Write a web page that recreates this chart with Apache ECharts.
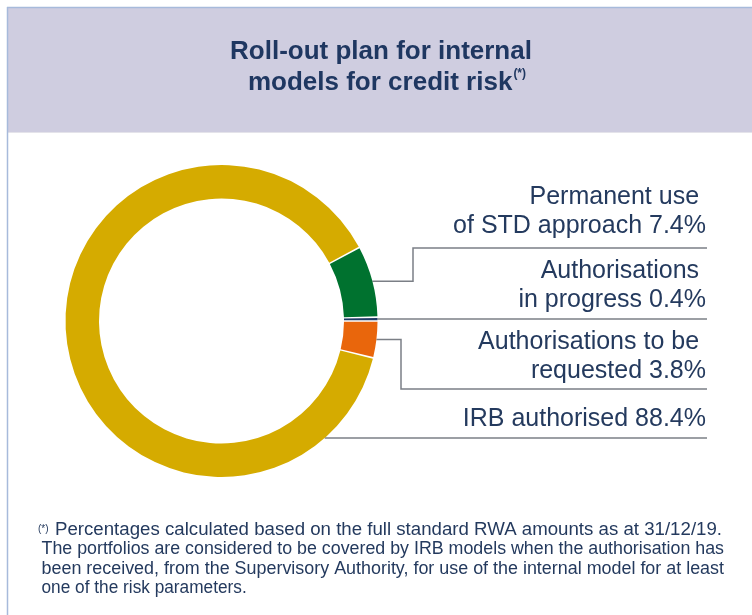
<!DOCTYPE html>
<html><head><meta charset="utf-8">
<script src="https://cdn.jsdelivr.net/npm/echarts@6/dist/echarts.min.js"></script>
<style>html,body{margin:0;padding:0;background:#fff;} #c{width:752px;height:615px;}</style>
</head><body><div id="c"></div>
<script>
// ---- data ----
const categories = ['Permanent use \nof STD approach', 'Authorisations \nin progress', 'Authorisations to be \nrequested', 'IRB authorised'];
const values = [7.4, 0.4, 3.8, 88.4];
const colors = ['#00722f', '#1f3a64', '#e9660c', '#d5ab00'];
const titleLines = ['Roll-out plan for internal', 'models for credit risk'];
const noteMark = '(*)';
const footnoteLines = [
  'Percentages calculated based on the full standard RWA amounts as at 31/12/19.',
  'The portfolios are considered to be covered by IRB models when the authorisation has',
  'been received, from the Supervisory Authority, for use of the internal model for at least',
  'one of the risk parameters.'
];

// ---- style / layout ----
const FONT = '"Liberation Sans", Arial, Helvetica, sans-serif';
const TEXT_COLOR = '#243a5e';
const LINE_COLOR = '#7b7f86';
const LABEL_RIGHT = 706, LINE_END = 707;
const leaderY = [248, null, 389, 438];  // null: follow slice middle
const elbowX = [413, null, 401, null];
const textGap = [7, 4, 3, 4];

const chart = echarts.init(document.getElementById('c'), null, {renderer: 'canvas'});
const total = values.reduce((a, b) => a + b, 0);
const startAngle = (values[0] + values[1]) / total * 360;

function measure(txt, size, weight) {
  const ctx = document.createElement('canvas').getContext('2d');
  ctx.font = (weight || 'normal') + ' ' + size + 'px ' + FONT;
  return ctx.measureText(txt).width;
}

const FN_SIZE = 17;
const fnStart = [55, 41.5, 41.5, 41.5];
const fnEnd = [722, 724, 724, null];
const fnBase = [536.5, 555.5, 575, 594];
const footGraphics = footnoteLines.map((t, i) => {
  const w = measure(t, FN_SIZE);
  const s = fnEnd[i] ? (fnEnd[i] - fnStart[i]) / w : 1.015;
  return {
    type: 'text', x: fnStart[i], y: fnBase[i] - 0.35 * FN_SIZE, scaleX: s, scaleY: 1.04, silent: true,
    style: {text: t, x: 0, y: 0, fontSize: FN_SIZE, fontFamily: FONT, fill: TEXT_COLOR,
      align: 'left', textAlign: 'left', verticalAlign: 'middle', textVerticalAlign: 'middle'}
  };
});

const option = {
  animation: false,
  backgroundColor: '#ffffff',
  graphic: [
    {type: 'rect', silent: true, shape: {x: 8, y: 8, width: 744, height: 124}, style: {fill: '#cfcde0'}},
    {type: 'line', silent: true, shape: {x1: 8, y1: 132.5, x2: 752, y2: 132.5}, style: {stroke: '#e4e3ea', lineWidth: 1}},
    {type: 'line', silent: true, shape: {x1: 7, y1: 7.5, x2: 752, y2: 7.5}, style: {stroke: '#a7badb', lineWidth: 1.5}},
    {type: 'line', silent: true, shape: {x1: 7.5, y1: 7, x2: 7.5, y2: 615}, style: {stroke: '#a7badb', lineWidth: 1.5}},
    {type: 'text', silent: true, x: 381, y: 52,
      style: {text: titleLines[0], x: 0, y: 0, fontSize: 26, fontWeight: 'bold', fontFamily: FONT, fill: '#1f3761',
        align: 'center', textAlign: 'center', verticalAlign: 'middle', textVerticalAlign: 'middle'}},
    {type: 'text', silent: true, x: 387, y: 83,
      style: {text: '{m|' + titleLines[1] + '}{s|' + noteMark + '}', x: 0, y: 0,
        align: 'center', textAlign: 'center', verticalAlign: 'middle', textVerticalAlign: 'middle',
        rich: {
          m: {fontSize: 26, fontWeight: 'bold', fontFamily: FONT, fill: '#1f3761', color: '#1f3761', lineHeight: 30},
          s: {fontSize: 12, fontWeight: 'bold', fontFamily: FONT, fill: '#1f3761', color: '#1f3761', verticalAlign: 'top', padding: [0, 0, 0, 1]}
        }}},
    {type: 'text', silent: true, x: 38, y: 529,
      style: {text: noteMark, x: 0, y: 0, fontSize: 10, fontFamily: FONT, fill: TEXT_COLOR,
        align: 'left', textAlign: 'left', verticalAlign: 'middle', textVerticalAlign: 'middle'}}
  ].concat(footGraphics),
  series: [{
    type: 'pie',
    center: [221.5, 321],
    radius: [122.5, 156],
    startAngle: startAngle,
    clockwise: true,
    padAngle: 0.6,
    avoidLabelOverlap: false,
    silent: true,
    itemStyle: {borderWidth: 0},
    label: {
      show: true, position: 'outside',
      formatter: p => p.name + ' ' + p.value.toFixed(1) + '%',
      fontSize: 25, lineHeight: 29, color: TEXT_COLOR, fontFamily: FONT, align: 'right'
    },
    labelLine: {show: true, length: 10, length2: 10, lineStyle: {color: LINE_COLOR, width: 1.5}},
    labelLayout: function (p) {
      const i = p.dataIndex;
      const lay = chart.getModel().getSeriesByIndex(0).getData().getItemLayout(i);
      const cx = lay.cx, cy = lay.cy, r = lay.r;
      const mid = (lay.startAngle + lay.endAngle) / 2;
      let pts, ly;
      if (leaderY[i] == null) {
        const sx = cx + r * Math.cos(mid), sy = cy + r * Math.sin(mid);
        ly = sy;
        pts = [[sx, sy], [(sx + LINE_END) / 2, sy], [LINE_END, sy]];
      } else if (elbowX[i] == null) {
        ly = leaderY[i];
        const dy = ly - cy;
        const sx = cx + Math.sqrt(Math.max(r * r - dy * dy, 0));
        pts = [[sx, ly], [(sx + LINE_END) / 2, ly], [LINE_END, ly]];
      } else {
        ly = leaderY[i];
        const sx = cx + r * Math.cos(mid), sy = cy + r * Math.sin(mid);
        pts = [[sx, sy], [elbowX[i], sy], [elbowX[i], ly], [LINE_END, ly]];
      }
      return {x: LABEL_RIGHT, y: ly - textGap[i], align: 'right', verticalAlign: 'bottom', labelLinePoints: pts};
    },
    data: categories.map((n, i) => ({name: n, value: values[i], itemStyle: {color: colors[i]}}))
  }]
};
chart.setOption(option);
</script>
</body></html>
